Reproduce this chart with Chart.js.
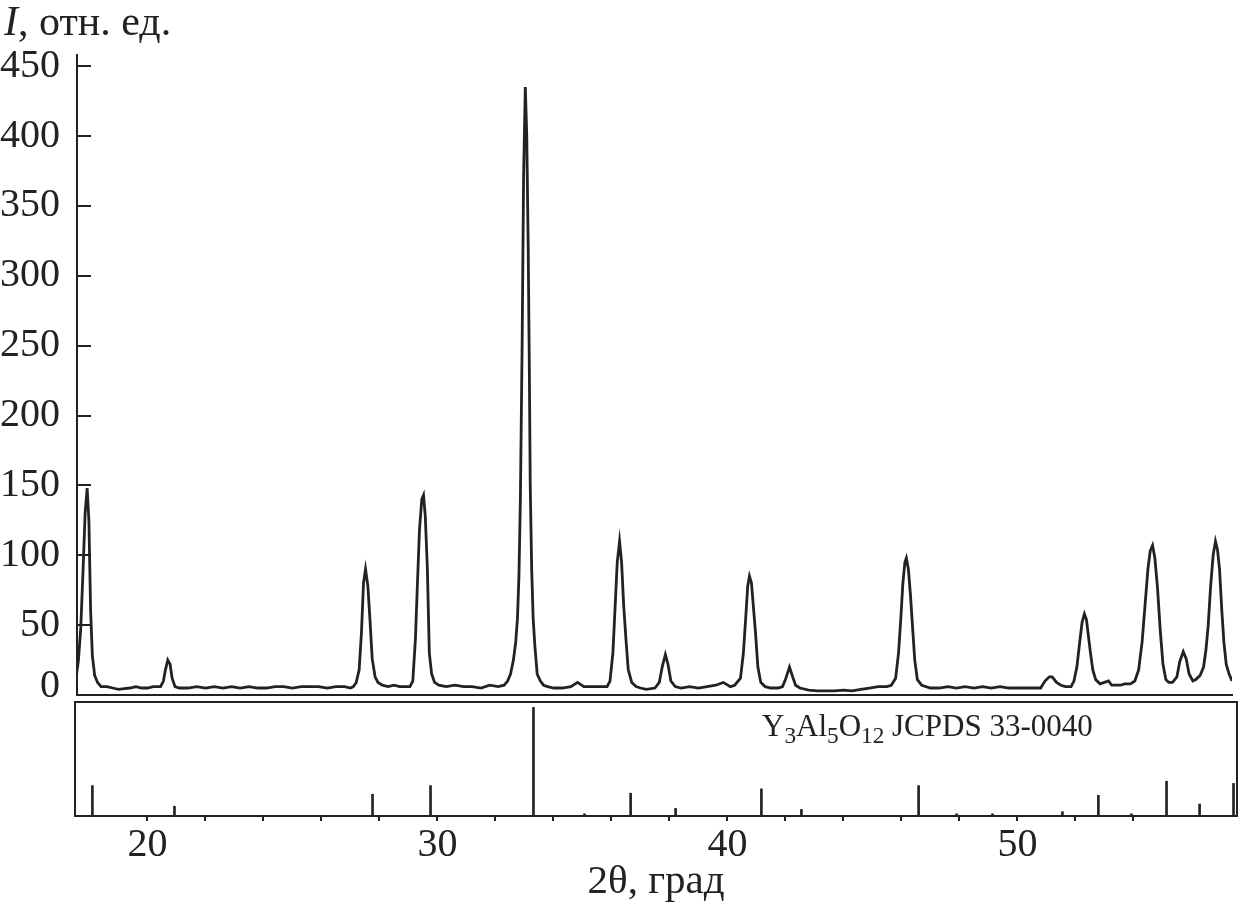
<!DOCTYPE html>
<html>
<head>
<meta charset="utf-8">
<script src="https://cdn.jsdelivr.net/npm/chart.js@4.4.1/dist/chart.umd.min.js"></script>
<style>
  html, body { margin: 0; padding: 0; background: #fff; }
  #wrap { position: relative; width: 1240px; height: 907px; font-family: "Liberation Serif", "Times New Roman", serif; color: #222; }
  #wrap canvas { position: absolute; left: 0; top: 0; }
  .lbl { position: absolute; white-space: nowrap; line-height: 1; }
  .lbl sub { font-size: 0.75em; vertical-align: baseline; position: relative; top: 0.3em; line-height: 0; }
</style>
</head>
<body>
<div id="wrap">
  <canvas id="pattern" width="1240" height="907"></canvas>
  <canvas id="reference" width="1240" height="907"></canvas>
  <div class="lbl" style="left:4px; top:0px; font-size:42px;"><i>I</i>, отн. ед.</div>
  <div class="lbl" style="left:762px; top:710px; font-size:31px;">Y<sub>3</sub>Al<sub>5</sub>O<sub>12</sub> JCPDS 33-0040</div>
</div>
<script>
// measured pattern: 2θ (deg) and intensity (rel. units)
const twoTheta = [
  17.55, 17.62, 17.70, 17.78, 17.85, 17.92, 17.98, 18.04, 18.10, 18.18, 18.28, 18.40,
  18.60, 18.80, 19.00, 19.20, 19.40, 19.60, 19.80, 20.00, 20.20,
  20.45, 20.55, 20.62, 20.70, 20.78, 20.85, 20.95,
  21.10, 21.40, 21.70, 22.00, 22.30, 22.60, 22.90, 23.20, 23.50, 23.80, 24.10, 24.40,
  24.70, 25.00, 25.30, 25.60, 25.90, 26.20, 26.50, 26.80, 27.00,
  27.10, 27.20, 27.30, 27.38, 27.45, 27.52, 27.60, 27.67, 27.75, 27.85, 27.95, 28.10,
  28.30, 28.50, 28.70, 28.90,
  29.05, 29.15, 29.24, 29.31, 29.38, 29.46, 29.52, 29.58, 29.65, 29.72, 29.80, 29.90, 30.05,
  30.30, 30.60, 30.90, 31.20, 31.50, 31.80, 32.10,
  32.30, 32.42, 32.52, 32.62, 32.70, 32.76, 32.81, 32.86, 32.92, 32.97, 33.03, 33.08,
  33.13, 33.17, 33.20, 33.25, 33.30, 33.36, 33.44, 33.55, 33.66, 33.80,
  34.00, 34.30, 34.60, 34.83, 35.05, 35.40, 35.70,
  35.85, 35.95, 36.05, 36.12, 36.20, 36.28, 36.35, 36.42, 36.50, 36.58, 36.70, 36.85,
  37.00, 37.20, 37.50, 37.65, 37.75, 37.86, 37.95, 38.05, 38.20,
  38.40, 38.70, 39.00, 39.30, 39.60, 39.86, 40.10,
  40.25, 40.45, 40.55, 40.63, 40.70, 40.76, 40.83, 40.90, 40.97, 41.05, 41.15, 41.30,
  41.50, 41.75, 41.90, 42.00, 42.14, 42.25, 42.35, 42.50,
  42.80, 43.10, 43.40, 43.70, 44.00, 44.30, 44.60, 44.90, 45.20, 45.50,
  45.65, 45.80, 45.90, 45.98, 46.05, 46.12, 46.17, 46.24, 46.31, 46.38, 46.46, 46.55, 46.70,
  47.00, 47.30, 47.60, 47.90, 48.20, 48.50, 48.80, 49.10, 49.40, 49.70, 50.00, 50.30, 50.60,
  50.80, 50.95, 51.10, 51.20, 51.35, 51.50, 51.66,
  51.85, 51.95, 52.05, 52.15, 52.23, 52.31, 52.38, 52.45, 52.52, 52.60, 52.70, 52.85,
  53.00, 53.14, 53.25, 53.40, 53.55, 53.70,
  53.90, 54.05, 54.18, 54.30, 54.40, 54.50, 54.58, 54.66, 54.74, 54.83, 54.93, 55.02, 55.12, 55.22,
  55.35, 55.50, 55.60, 55.72, 55.82, 55.92, 56.05,
  56.15, 56.30, 56.42, 56.50, 56.58, 56.66, 56.75, 56.83, 56.90, 56.97, 57.05, 57.12, 57.20, 57.30, 57.40
];
const intensity = [
  14, 25, 48, 90, 130, 148, 125, 60, 28, 14, 9, 6,
  6, 5, 4, 4.5, 5, 6, 5, 5, 6,
  6, 10, 18, 25, 22, 12, 6,
  5, 5, 6, 5, 6, 5, 6, 5, 6, 5, 5, 6,
  6, 5, 6, 6, 6, 5, 6, 6, 5,
  6, 9, 18, 45, 80, 90, 78, 55, 26, 13, 9, 7,
  6, 7, 6, 6,
  6, 10, 40, 80, 118, 140, 143, 128, 92, 30, 15, 9, 7,
  6, 7, 6, 6, 5, 7, 6,
  7, 10, 15, 25, 38, 55, 85, 140, 250, 370, 435, 400,
  320, 230, 150, 90, 55, 35, 15, 10, 7, 6,
  5, 5, 6, 9, 6, 6, 6,
  6, 10, 30, 60, 95, 110, 95, 65, 40, 18, 9, 6,
  5, 4, 5, 9, 20, 29, 22, 10, 6,
  5, 6, 5, 6, 7, 9, 6,
  7, 12, 30, 55, 78, 85, 80, 62, 44, 20, 9, 6,
  5, 5, 6, 11, 20, 13, 7, 5,
  3.5, 3, 3, 3, 3.5, 3, 4, 5, 6, 6,
  7, 12, 30, 55, 80, 95, 98, 90, 72, 50, 25, 11, 7,
  5, 5, 6, 5, 6, 5, 6, 5, 6, 5, 5, 5, 5,
  5, 10, 13, 13, 9, 7, 6,
  6, 10, 20, 38, 52, 58, 54, 42, 30, 18, 11, 8,
  9, 10, 7, 7, 7, 8,
  8, 10, 18, 38, 64, 90, 103, 107, 98, 77, 45, 22, 11, 9,
  9, 13, 24, 31, 26, 15, 10,
  11, 14, 20, 32, 50, 77, 100, 110, 104, 90, 60, 38, 22, 15, 10
];

// Y3Al5O12, JCPDS 33-0040 reference lines
const refTwoTheta = [18.10, 20.93, 27.76, 29.76, 33.31, 35.07, 36.66, 38.21, 41.17, 42.55,
                     46.59, 47.90, 49.14, 51.55, 52.79, 53.93, 55.14, 56.28, 57.45];
const refIntensity = [28, 9, 20, 28, 100, 2, 21, 7, 25, 6,
                      28, 2, 2, 4, 19, 2, 32, 11, 30];

const yTickValues = [0, 50, 100, 150, 200, 250, 300, 350, 400, 450];
const xTickStep = 2;
const xLabelValues = [20, 30, 40, 50];

const INK = '#222';
const serif = '"Liberation Serif", "Times New Roman", serif';

function bareAxis(extra) {
  return Object.assign({
    ticks: { display: false },
    grid: { drawOnChartArea: false, drawTicks: false },
    border: { display: true, color: INK, width: 2 },
  }, extra);
}

// ── top panel: diffraction pattern ──
new Chart(document.getElementById('pattern'), {
  type: 'line',
  data: {
    datasets: [{
      data: twoTheta.map((t, i) => ({ x: t, y: intensity[i] })),
      borderColor: '#222',
      borderWidth: 2.8,
      pointRadius: 0,
      tension: 0,
      fill: false,
    }],
  },
  options: {
    responsive: false,
    animation: false,
    events: [],
    layout: { autoPadding: false, padding: { top: 55, right: 8, bottom: 212, left: 0 } },
    plugins: { legend: { display: false }, tooltip: { enabled: false } },
    scales: {
      x: bareAxis({
        type: 'linear', min: 17.57, max: 57.40,
        afterFit: s => { s.height = 0; },
      }),
      y: {
        type: 'linear', min: 0, max: 458,
        afterBuildTicks: s => { s.ticks = yTickValues.map(v => ({ value: v })); },
        afterFit: s => { s.width = 77; },
        ticks: {
          padding: 31,
          color: INK,
          // the zero label sits a little higher, clear of the lower frame
          callback: v => (v === 0 ? ['0', ''] : String(v)),
          font: ctx => ({ family: serif, size: 40, lineHeight: (ctx.tick && ctx.tick.value === 0) ? '18px' : 1.2 }),
        },
        grid: { drawOnChartArea: false, tickLength: -14, color: INK, lineWidth: 2 },
        border: { display: true, color: INK, width: 2 },
      },
    },
  },
});

// ── bottom panel: reference lines ──
new Chart(document.getElementById('reference'), {
  type: 'bar',
  data: {
    datasets: [{
      data: refTwoTheta.map((t, i) => ({ x: t, y: refIntensity[i] })),
      backgroundColor: INK,
      borderWidth: 0,
      barThickness: 2,
    }],
  },
  options: {
    responsive: false,
    animation: false,
    events: [],
    layout: { autoPadding: false, padding: { top: 702, right: 3, bottom: 0, left: 0 } },
    plugins: { legend: { display: false }, tooltip: { enabled: false } },
    scales: {
      x: {
        type: 'linear', position: 'bottom', min: 17.5, max: 57.57, offset: false,
        afterBuildTicks: s => {
          s.ticks = s.ticks.filter(t => t.value >= s.min && t.value <= s.max && t.value % xTickStep === 0);
        },
        afterFit: s => { s.height = 91; },
        ticks: {
          stepSize: xTickStep,
          autoSkip: false,
          maxRotation: 0,
          padding: 0,
          color: INK,
          font: { family: serif, size: 40, lineHeight: 1.2 },
          callback: v => (xLabelValues.includes(v) ? String(v) : ''),
        },
        grid: { offset: false, drawOnChartArea: false, tickLength: 5, color: INK, lineWidth: 2 },
        border: { display: true, color: INK, width: 2 },
        title: {
          display: true,
          text: '2θ, град',
          color: INK,
          font: { family: serif, size: 41, lineHeight: 1.2 },
          padding: { top: 0, bottom: 0 },
        },
      },
      xTop: bareAxis({
        type: 'linear', position: 'top', min: 17.5, max: 57.57, offset: false,
        afterFit: s => { s.height = 0; },
      }),
      y: bareAxis({
        type: 'linear', min: 0, max: 105,
        afterFit: s => { s.width = 75; },
      }),
      yRight: bareAxis({
        type: 'linear', position: 'right', min: 0, max: 105,
        afterFit: s => { s.width = 0; },
      }),
    },
  },
});
</script>
</body>
</html>
